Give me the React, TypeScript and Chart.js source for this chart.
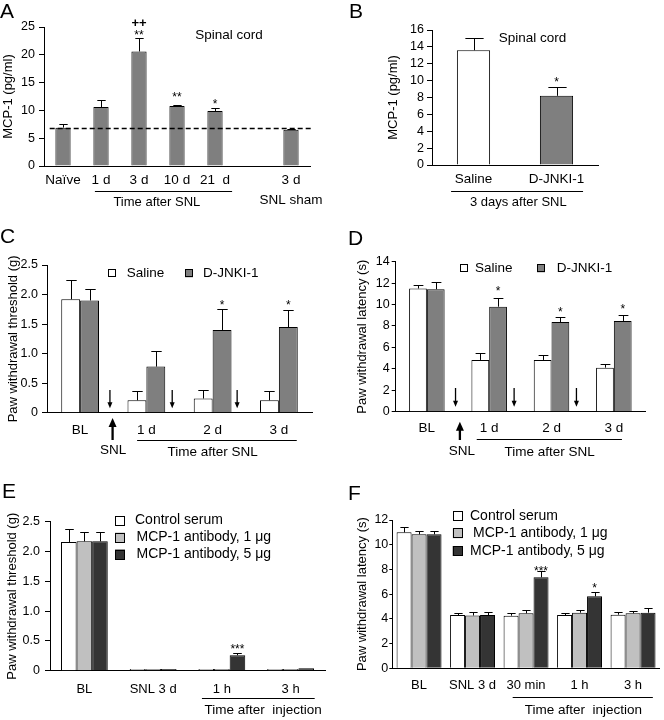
import React, { useEffect, useRef } from "react";
import { Chart, registerables } from "chart.js";

Chart.register(...registerables);

const FONT = "'Liberation Sans', Arial, Helvetica, sans-serif";
const WHITE = "#ffffff";
const GRAY = "#7f7f7f";
const LIGHT = "#c0c0c0";
const DARK = "#343434";

// ---------- Panel A: MCP-1 in spinal cord after SNL ----------
const aCategories: (string | string[])[] = ["Naïve", "1 d", "3 d", "10 d", "21  d", "", ["3 d", "SNL sham"]];
const aMcp1 = [6.9, 10.6, 20.6, 10.8, 9.9, null, 6.5];
const aMcp1Sem = [0.6, 1.3, 2.4, 0.2, 0.6, null, 0.2];
const aNaiveLevel = 6.8;

// ---------- Panel B: MCP-1, 3 days after SNL ----------
const bCategories = ["Saline", "D-JNKI-1"];
const bMcp1 = [13.6, 8.2];
const bMcp1Sem = [1.4, 1.0];

// ---------- Panels C and D ----------
const cdCategories = ["BL", "1 d", "2 d", "3 d"];
const cSaline = [1.92, 0.21, 0.24, 0.21];
const cSalineSem = [0.32, 0.15, 0.14, 0.15];
const cJnki = [1.9, 0.78, 1.4, 1.45];
const cJnkiSem = [0.19, 0.27, 0.36, 0.29];

const dSaline = [11.5, 4.83, 4.83, 4.11];
const dSalineSem = [0.3, 0.62, 0.47, 0.31];
const dJnki = [11.43, 9.8, 8.37, 8.47];
const dJnkiSem = [0.71, 0.79, 0.5, 0.56];

// injection arrows (fractional category positions)
const cInjections = [0.45, 1.39, 2.37];
const dInjections = [0.46, 1.4, 2.4];
const cSnl = 0.49;
const dSnl = 0.53;

// ---------- Panel E ----------
const eCategories = ["BL", "SNL 3 d", "1 h", "3 h"];
const eControl = [2.16, 0.03, 0.03, 0.03];
const eControlSem = [0.21, 0, 0, 0];
const eAb1 = [2.17, 0.03, 0.03, 0.03];
const eAb1Sem = [0.16, 0, 0, 0];
const eAb5 = [2.17, 0.03, 0.26, 0.04];
const eAb5Sem = [0.16, 0, 0.03, 0];

// ---------- Panel F ----------
const fCategories = ["BL", "SNL 3 d", "30 min", "1 h", "3 h"];
const fControl = [11.0, 4.31, 4.26, 4.31, 4.34];
const fControlSem = [0.46, 0.19, 0.21, 0.14, 0.21];
const fAb1 = [10.84, 4.27, 4.45, 4.5, 4.45];
const fAb1Sem = [0.29, 0.28, 0.27, 0.23, 0.2];
const fAb5 = [10.84, 4.31, 7.36, 5.82, 4.5];
const fAb5Sem = [0.29, 0.24, 0.51, 0.33, 0.35];

type DS = { label: string; data: (number | null)[]; sem: (number | null)[]; color: string | string[] };
type Star = { ds: number; i: number; text: string; gap: number; bold?: boolean };
type Spec = {
  key: string;
  box: [number, number, number, number];
  area: [number, number, number, number];
  categories: any[];
  datasets: DS[];
  y: { min: number; max: number; step: number };
  yTitle: string;
  yTitlePad: number;
  yTickLen: number;
  yTickPad: number;
  xFont: number;
  xPad: number;
  xLineHeight?: number;
  catPct: number;
  stars: Star[];
  letter: [string, number, number];
  extra: (chart: any, ctx: CanvasRenderingContext2D) => void;
};

function text(ctx: CanvasRenderingContext2D, s: string, x: number, y: number, size: number, align: CanvasTextAlign = "center", weight = "") {
  ctx.save();
  ctx.font = `${weight}${size}px ${FONT}`;
  ctx.fillStyle = "#000";
  ctx.textAlign = align;
  ctx.textBaseline = "middle";
  ctx.fillText(s, x, y);
  ctx.restore();
}

function hline(ctx: CanvasRenderingContext2D, x1: number, x2: number, y: number, w = 1) {
  ctx.save();
  ctx.strokeStyle = "#000";
  ctx.lineWidth = w;
  ctx.beginPath();
  const yy = Math.round(y) + 0.5;
  ctx.moveTo(x1, yy);
  ctx.lineTo(x2, yy);
  ctx.stroke();
  ctx.restore();
}

function arrow(ctx: CanvasRenderingContext2D, x: number, yFrom: number, yTo: number, width: number, headW: number, headL: number) {
  const dir = yTo > yFrom ? 1 : -1;
  ctx.save();
  ctx.strokeStyle = "#000";
  ctx.fillStyle = "#000";
  ctx.lineWidth = width;
  ctx.beginPath();
  ctx.moveTo(x, yFrom);
  ctx.lineTo(x, yTo - dir * headL * 0.7);
  ctx.stroke();
  ctx.beginPath();
  ctx.moveTo(x, yTo);
  ctx.lineTo(x - headW / 2, yTo - dir * headL);
  ctx.lineTo(x + headW / 2, yTo - dir * headL);
  ctx.closePath();
  ctx.fill();
  ctx.restore();
}

function legendItem(ctx: CanvasRenderingContext2D, x: number, cy: number, size: number, color: string, label: string, textX: number, font: number) {
  ctx.save();
  ctx.fillStyle = color;
  ctx.fillRect(x, cy - size / 2, size, size);
  ctx.strokeStyle = "#000";
  ctx.lineWidth = 1;
  ctx.strokeRect(Math.round(x) + 0.5, Math.round(cy - size / 2) + 0.5, size - 1, size - 1);
  ctx.restore();
  text(ctx, label, textX, cy, font, "left");
}

function makePlugin(spec: Spec) {
  return {
    id: "annot_" + spec.key,
    afterDatasetsDraw(chart: any) {
      const ctx: CanvasRenderingContext2D = chart.ctx;
      const ys = chart.scales.y;
      ctx.save();
      ctx.strokeStyle = "#000";
      ctx.lineWidth = 1;
      spec.datasets.forEach((d, di) => {
        const meta = chart.getDatasetMeta(di);
        meta.data.forEach((el: any, i: number) => {
          const v = d.data[i];
          const s = d.sem[i];
          if (v == null || !s) return;
          const top = Math.round(ys.getPixelForValue(v + s)) + 0.5;
          const x = Math.round(el.x) + 0.5;
          const cap = Math.max(7, el.width * 0.55);
          ctx.beginPath();
          ctx.moveTo(x, el.y);
          ctx.lineTo(x, top);
          ctx.moveTo(x - cap / 2, top);
          ctx.lineTo(x + cap / 2, top);
          ctx.stroke();
        });
      });
      ctx.restore();
    },
    afterDraw(chart: any) {
      const ctx: CanvasRenderingContext2D = chart.ctx;
      const ys = chart.scales.y;
      spec.stars.forEach((st) => {
        const d = spec.datasets[st.ds];
        const el = chart.getDatasetMeta(st.ds).data[st.i];
        const v = (d.data[st.i] as number) + ((d.sem[st.i] as number) || 0);
        const cy = ys.getPixelForValue(v) - st.gap;
        const fs = st.bold ? 13 : 12;
        ctx.save();
        ctx.font = `${st.bold ? "bold " : ""}${fs}px ${FONT}`;
        ctx.fillStyle = "#000";
        ctx.textAlign = "center";
        ctx.textBaseline = "alphabetic";
        const k = st.text.includes("+") ? 0.34 : 0.6;
        ctx.fillText(st.text, el.x, cy + k * fs);
        ctx.restore();
      });
      ctx.save();
      ctx.font = `21px ${FONT}`;
      ctx.fillStyle = "#000";
      ctx.textAlign = "left";
      ctx.textBaseline = "alphabetic";
      ctx.fillText(spec.letter[0], spec.letter[1], spec.letter[2]);
      ctx.restore();
      spec.extra(chart, ctx);
    },
  };
}

function buildConfig(spec: Spec): any {
  const [left, top, right, bottom] = spec.area;
  const [, , width, height] = spec.box;
  return {
    type: "bar",
    data: {
      labels: spec.categories,
      datasets: spec.datasets.map((d) => ({
        label: d.label,
        data: d.data,
        backgroundColor: d.color,
        borderColor: "#000",
        borderWidth: 1,
        categoryPercentage: spec.catPct,
        barPercentage: 1,
      })),
    },
    options: {
      responsive: false,
      animation: false,
      layout: { padding: { left: 0, top, right: width - right, bottom: 0 } },
      plugins: { legend: { display: false }, tooltip: { enabled: false } },
      scales: {
        x: {
          grid: { display: false, drawTicks: false },
          border: { display: true, color: "#000", width: 1 },
          ticks: {
            color: "#000",
            autoSkip: false,
            maxRotation: 0,
            padding: spec.xPad,
            font: { family: FONT, size: spec.xFont, lineHeight: spec.xLineHeight || 1.2 },
          },
          afterFit: (s: any) => {
            s.height = height - bottom;
          },
        },
        y: {
          min: spec.y.min,
          max: spec.y.max,
          ticks: {
            stepSize: spec.y.step,
            autoSkip: false,
            color: "#000",
            padding: spec.yTickPad,
            font: { family: FONT, size: 12.5 },
          },
          grid: { drawOnChartArea: false, drawTicks: true, tickLength: spec.yTickLen, color: "#000" },
          border: { display: true, color: "#000", width: 1 },
          title: {
            display: true,
            text: spec.yTitle,
            color: "#000",
            font: { family: FONT, size: 13 },
            padding: { top: spec.yTitlePad, bottom: 0 },
          },
          afterFit: (s: any) => {
            s.width = left;
          },
        },
      },
    },
    plugins: [makePlugin(spec)],
  };
}

const specs: Spec[] = [
  {
    key: "A",
    box: [0, 0, 330, 225],
    area: [44, 27, 310, 166],
    categories: aCategories,
    datasets: [{ label: "MCP-1", data: aMcp1, sem: aMcp1Sem, color: GRAY }],
    y: { min: 0, max: 25, step: 5 },
    yTitle: "MCP-1 (pg/ml)",
    yTitlePad: 1,
    yTickLen: 5,
    yTickPad: 4,
    xFont: 13.5,
    xPad: 4,
    xLineHeight: 20 / 13.5,
    catPct: 0.4,
    stars: [
      { ds: 0, i: 2, text: "**", gap: 6 },
      { ds: 0, i: 2, text: "++", gap: 16, bold: true },
      { ds: 0, i: 3, text: "**", gap: 11 },
      { ds: 0, i: 4, text: "*", gap: 7 },
    ],
    letter: ["A", 0, 18],
    extra: (chart, ctx) => {
      const xs = chart.scales.x;
      const ys = chart.scales.y;
      const ca = chart.chartArea;
      const y = Math.round(ys.getPixelForValue(aNaiveLevel)) + 0.5;
      ctx.save();
      ctx.setLineDash([5, 3]);
      ctx.lineWidth = 1.5;
      ctx.strokeStyle = "#000";
      ctx.beginPath();
      ctx.moveTo(xs.getPixelForValue(-0.35), y);
      ctx.lineTo(ca.right + 2, y);
      ctx.stroke();
      ctx.restore();
      text(ctx, "Spinal cord", xs.getPixelForValue(4.37), ys.getPixelForValue(23.6), 13.5);
      hline(ctx, xs.getPixelForValue(0.84), xs.getPixelForValue(4.45), ca.bottom + 25);
      text(ctx, "Time after SNL", xs.getPixelForValue(2.47), ca.bottom + 36, 13);
    },
  },
  {
    key: "B",
    box: [330, 0, 334, 225],
    area: [102, 30, 268, 165],
    categories: bCategories,
    datasets: [{ label: "MCP-1", data: bMcp1, sem: bMcp1Sem, color: [WHITE, GRAY] }],
    y: { min: 0, max: 16, step: 2 },
    yTitle: "MCP-1 (pg/ml)",
    yTitlePad: 55.5,
    yTickLen: 5,
    yTickPad: 3,
    xFont: 13.5,
    xPad: 6,
    catPct: 0.4,
    stars: [{ ds: 0, i: 1, text: "*", gap: 9 }],
    letter: ["B", 19, 18],
    extra: (chart, ctx) => {
      const xs = chart.scales.x;
      const ys = chart.scales.y;
      const ca = chart.chartArea;
      text(ctx, "Spinal cord", xs.getPixelForValue(0.71), ys.getPixelForValue(15.05), 13.5);
      hline(ctx, xs.getPixelForValue(-0.27), xs.getPixelForValue(1.32), ca.bottom + 26);
      text(ctx, "3 days after SNL", xs.getPixelForValue(0.54), ca.bottom + 37, 13);
    },
  },
  {
    key: "C",
    box: [0, 225, 330, 250],
    area: [47, 40, 312, 187.7],
    categories: cdCategories,
    datasets: [
      { label: "Saline", data: cSaline, sem: cSalineSem, color: WHITE },
      { label: "D-JNKI-1", data: cJnki, sem: cJnkiSem, color: GRAY },
    ],
    y: { min: 0, max: 2.5, step: 0.5 },
    yTitle: "Paw withdrawal threshold (g)",
    yTitlePad: 5.5,
    yTickLen: 5,
    yTickPad: 4,
    xFont: 13.5,
    xPad: 9.2,
    catPct: 0.57,
    stars: [
      { ds: 1, i: 2, text: "*", gap: 7 },
      { ds: 1, i: 3, text: "*", gap: 8 },
    ],
    letter: ["C", 0, 18],
    extra: (chart, ctx) => {
      const xs = chart.scales.x;
      const ca = chart.chartArea;
      legendItem(ctx, 107.7, 48.3, 8, WHITE, "Saline", 126.7, 13.5);
      legendItem(ctx, 185, 48.3, 8, GRAY, "D-JNKI-1", 203, 13.5);
      cInjections.forEach((p) => arrow(ctx, xs.getPixelForValue(p), ca.bottom - 22.7, ca.bottom - 4.4, 1.3, 5, 6));
      arrow(ctx, xs.getPixelForValue(cSnl), ca.bottom + 27.3, ca.bottom + 5.3, 2.3, 8, 9);
      text(ctx, "SNL", xs.getPixelForValue(0.5), ca.bottom + 38, 13.5);
      hline(ctx, xs.getPixelForValue(0.86), xs.getPixelForValue(3.27), ca.bottom + 27.3);
      text(ctx, "Time after SNL", xs.getPixelForValue(2.0), ca.bottom + 39.3, 13.5);
    },
  },
  {
    key: "D",
    box: [330, 225, 334, 250],
    area: [65.7, 36.7, 315, 186.7],
    categories: cdCategories,
    datasets: [
      { label: "Saline", data: dSaline, sem: dSalineSem, color: WHITE },
      { label: "D-JNKI-1", data: dJnki, sem: dJnkiSem, color: GRAY },
    ],
    y: { min: 0, max: 14, step: 2 },
    yTitle: "Paw withdrawal latency (s)",
    yTitlePad: 25,
    yTickLen: 4,
    yTickPad: 2,
    xFont: 13.5,
    xPad: 8.2,
    catPct: 0.57,
    stars: [
      { ds: 1, i: 1, text: "*", gap: 10 },
      { ds: 1, i: 2, text: "*", gap: 8 },
      { ds: 1, i: 3, text: "*", gap: 9 },
    ],
    letter: ["D", 18, 20],
    extra: (chart, ctx) => {
      const xs = chart.scales.x;
      const ca = chart.chartArea;
      legendItem(ctx, 130, 43.3, 8, WHITE, "Saline", 145, 13.5);
      legendItem(ctx, 207, 43.3, 8, GRAY, "D-JNKI-1", 226.7, 13.5);
      dInjections.forEach((p) => arrow(ctx, xs.getPixelForValue(p), ca.bottom - 23.7, ca.bottom - 5, 1.3, 5, 6));
      arrow(ctx, xs.getPixelForValue(dSnl), ca.bottom + 28.3, ca.bottom + 10, 2.3, 8, 9);
      text(ctx, "SNL", xs.getPixelForValue(0.56), ca.bottom + 40, 13.5);
      hline(ctx, xs.getPixelForValue(0.8), xs.getPixelForValue(3.13), ca.bottom + 27.6);
      text(ctx, "Time after SNL", xs.getPixelForValue(1.97), ca.bottom + 40.3, 13.5);
    },
  },
  {
    key: "E",
    box: [0, 475, 330, 245],
    area: [50, 46.7, 325, 195.7],
    categories: eCategories,
    datasets: [
      { label: "Control serum", data: eControl, sem: eControlSem, color: WHITE },
      { label: "MCP-1 antibody, 1 μg", data: eAb1, sem: eAb1Sem, color: LIGHT },
      { label: "MCP-1 antibody, 5 μg", data: eAb5, sem: eAb5Sem, color: DARK },
    ],
    y: { min: 0, max: 2.5, step: 0.5 },
    yTitle: "Paw withdrawal threshold (g)",
    yTitlePad: 5,
    yTickLen: 5,
    yTickPad: 5,
    xFont: 13,
    xPad: 10.8,
    catPct: 0.68,
    stars: [{ ds: 2, i: 2, text: "***", gap: 8 }],
    letter: ["E", 2, 23],
    extra: (chart, ctx) => {
      const xs = chart.scales.x;
      const ca = chart.chartArea;
      const ys = [45.5, 62.5, 79.5];
      chart.data.datasets.forEach((d: any, i: number) => {
        legendItem(ctx, 115, ys[i], 10, d.backgroundColor, d.label, i === 0 ? 135 : 136.5, 14);
      });
      hline(ctx, xs.getPixelForValue(1.71), xs.getPixelForValue(3.35), ca.bottom + 27.6);
      text(ctx, "Time after  injection", xs.getPixelForValue(2.6), ca.bottom + 39.3, 13.5);
    },
  },
  {
    key: "F",
    box: [330, 475, 334, 245],
    area: [62.3, 45, 329.8, 193.3],
    categories: fCategories,
    datasets: [
      { label: "Control serum", data: fControl, sem: fControlSem, color: WHITE },
      { label: "MCP-1 antibody, 1 μg", data: fAb1, sem: fAb1Sem, color: LIGHT },
      { label: "MCP-1 antibody, 5 μg", data: fAb5, sem: fAb5Sem, color: DARK },
    ],
    y: { min: 0, max: 12, step: 2 },
    yTitle: "Paw withdrawal latency (s)",
    yTitlePad: 25,
    yTickLen: 3,
    yTickPad: 1,
    xFont: 13,
    xPad: 8.9,
    catPct: 0.84,
    stars: [
      { ds: 2, i: 2, text: "***", gap: 3 },
      { ds: 2, i: 3, text: "*", gap: 7 },
    ],
    letter: ["F", 18, 25],
    extra: (chart, ctx) => {
      const xs = chart.scales.x;
      const ca = chart.chartArea;
      const ys = [41, 58.3, 76];
      chart.data.datasets.forEach((d: any, i: number) => {
        legendItem(ctx, 122.7, ys[i], 10, d.backgroundColor, d.label, i === 1 ? 143 : 140, 14);
      });
      hline(ctx, xs.getPixelForValue(1.75), xs.getPixelForValue(4.37), ca.bottom + 28.4);
      text(ctx, "Time after  injection", xs.getPixelForValue(3.07), ca.bottom + 41.7, 13.5);
    },
  },
];

function Panel({ spec }: { spec: Spec }) {
  const ref = useRef<HTMLCanvasElement>(null);
  useEffect(() => {
    const chart = new Chart(ref.current as HTMLCanvasElement, buildConfig(spec));
    return () => chart.destroy();
  }, [spec]);
  const [left, top, width, height] = spec.box;
  return (
    <canvas
      ref={ref}
      width={width}
      height={height}
      style={{ position: "absolute", left, top, width, height }}
    />
  );
}

export default function App() {
  return (
    <div style={{ position: "absolute", left: 0, top: 0, width: 664, height: 720, background: "#fff" }}>
      {specs.map((s) => (
        <Panel key={s.key} spec={s} />
      ))}
    </div>
  );
}
